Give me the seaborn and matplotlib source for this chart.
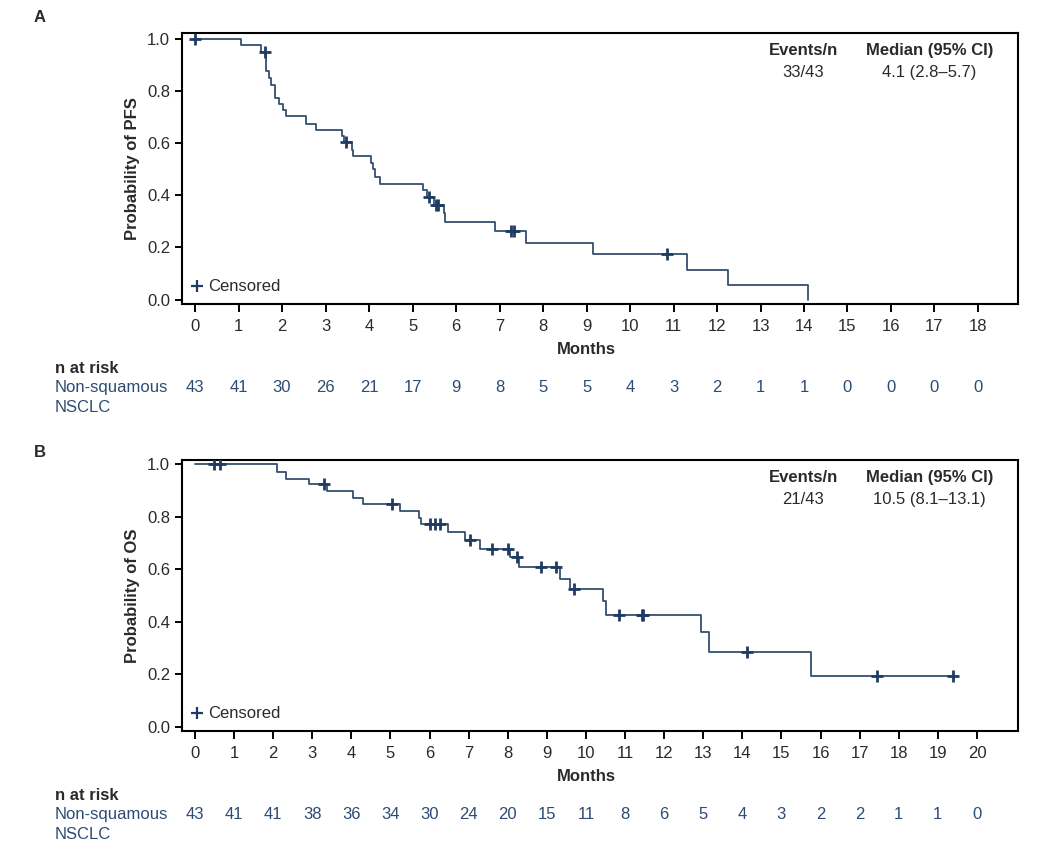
import numpy as np
import pandas as pd
import matplotlib
matplotlib.use("Agg")
import matplotlib.pyplot as plt
import matplotlib.transforms as mtransforms
import seaborn as sns

# ---------------- data ----------------
# Panel A: PFS Kaplan-Meier step curve (time in months, survival after step)
pfs_time = [0, 1.06, 1.52, 1.64, 1.69, 1.74, 1.83, 1.92, 2.02, 2.10, 2.56, 2.77,
            3.38, 3.43, 3.60, 3.64, 4.05, 4.10, 4.14, 4.25, 5.23, 5.33, 5.49,
            5.72, 5.75, 6.90, 7.60, 9.15, 11.31, 12.26, 14.10]
pfs_surv = [1.0, 0.977, 0.951, 0.875, 0.850, 0.822, 0.774, 0.749, 0.727, 0.702,
            0.674, 0.650, 0.628, 0.605, 0.575, 0.549, 0.524, 0.499, 0.471, 0.444,
            0.420, 0.394, 0.363, 0.330, 0.296, 0.263, 0.216, 0.174, 0.114, 0.057, 0.0]
pfs_cens_time = [0, 1.60, 3.46, 5.37, 5.55, 5.58, 7.27, 7.33, 10.85]
pfs_cens_surv = [1.0, 0.951, 0.605, 0.394, 0.363, 0.363, 0.263, 0.263, 0.174]
pfs_risk = [43, 41, 30, 26, 21, 17, 9, 8, 5, 5, 4, 3, 2, 1, 1, 0, 0, 0, 0]
pfs_events = "33/43"
pfs_median = "4.1 (2.8\u20135.7)"

# Panel B: OS Kaplan-Meier step curve
os_time = [0, 2.11, 2.34, 2.92, 3.38, 4.04, 4.31, 5.24, 5.74, 5.78, 6.48, 6.92,
           7.30, 8.06, 8.30, 9.34, 9.59, 10.43, 10.51, 12.94, 13.16, 15.76, 19.40]
os_surv = [1.0, 0.971, 0.945, 0.923, 0.898, 0.873, 0.850, 0.822, 0.797, 0.772,
           0.742, 0.712, 0.678, 0.645, 0.607, 0.564, 0.526, 0.478, 0.427, 0.360,
           0.286, 0.192, 0.192]
os_cens_time = [0.49, 0.64, 3.31, 5.03, 6.02, 6.14, 6.27, 7.04, 7.60, 8.00, 8.24,
                8.85, 9.24, 9.69, 10.84, 11.43, 11.47, 14.11, 17.45, 19.40]
os_cens_surv = [1.0, 1.0, 0.923, 0.850, 0.772, 0.772, 0.772, 0.712, 0.678, 0.678,
                0.645, 0.607, 0.607, 0.526, 0.427, 0.427, 0.427, 0.286, 0.192, 0.192]
os_risk = [43, 41, 41, 38, 36, 34, 30, 24, 20, 15, 11, 8, 6, 5, 4, 3, 2, 2, 1, 1, 0]
os_events = "21/43"
os_median = "10.5 (8.1\u201313.1)"

# ---------------- style ----------------
sns.set_theme(style="ticks")
plt.rcParams["font.family"] = ["Liberation Sans", "DejaVu Sans"]
TXT = "#2a2a2a"
LINE = "#34506f"
CENS = "#1f3b63"
RISK = "#2d4b73"
FS = 12

W, H = 1040, 847
fig = plt.figure(figsize=(W / 100, H / 100), dpi=100)


def px_axes(l, t, r, b):
    return fig.add_axes([l / W, 1 - b / H, (r - l) / W, (b - t) / H])


def panel(ax, times, surv, ctimes, csurv, risk, xmax, xlim, ylim, ylabel,
          events, median, letter, letter_y, risk_top):
    df = pd.DataFrame({"Months": times, "Survival": surv})
    sns.lineplot(data=df, x="Months", y="Survival", drawstyle="steps-post",
                 estimator=None, sort=False, color=LINE, linewidth=1.3, ax=ax)
    cdf = pd.DataFrame({"Months": ctimes, "Survival": csurv})
    sns.scatterplot(data=cdf, x="Months", y="Survival", marker="+", s=80,
                    color=CENS, linewidth=2.0, ax=ax, zorder=5)
    ax.set_xlim(*xlim)
    ax.set_ylim(*ylim)
    ax.set_xticks(range(0, xmax + 1))
    ax.set_yticks([0, 0.2, 0.4, 0.6, 0.8, 1.0])
    ax.set_yticklabels([f"{v:.1f}" for v in [0, 0.2, 0.4, 0.6, 0.8, 1.0]])
    for s in ax.spines.values():
        s.set_visible(True)
        s.set_linewidth(1.5)
        s.set_color("black")
    ax.tick_params(axis="y", direction="out", length=5, width=1.4,
                   color="black", labelsize=FS, labelcolor=TXT, pad=3.5)
    ax.tick_params(axis="x", direction="out", length=6, width=1.4,
                   color="black", labelsize=FS, labelcolor=TXT, pad=5)
    ax.set_xlabel("")
    ax.set_ylabel(ylabel, fontsize=FS, fontweight="bold", color=TXT, labelpad=5)

    # Months label centred on tick range
    bt = mtransforms.blended_transform_factory(ax.transData, fig.transFigure)
    ax.text(xmax / 2, 1 - (risk_top - 19) / H, "Months", transform=bt,
            ha="center", va="center", fontsize=FS, fontweight="bold", color=TXT)

    # events / median box
    ax.text(0.743, 0.935, "Events/n", transform=ax.transAxes, ha="center",
            va="center", fontsize=FS, fontweight="bold", color=TXT)
    ax.text(0.743, 0.855, events, transform=ax.transAxes, ha="center",
            va="center", fontsize=FS, color=TXT)
    ax.text(0.894, 0.935, "Median (95% CI)", transform=ax.transAxes, ha="center",
            va="center", fontsize=FS, fontweight="bold", color=TXT)
    ax.text(0.894, 0.855, median, transform=ax.transAxes, ha="center",
            va="center", fontsize=FS, color=TXT)

    # Censored legend
    ax.plot([0.018], [0.065], marker="+", markersize=8, mew=1.6, color=CENS,
            transform=ax.transAxes, linestyle="none")
    ax.text(0.031, 0.065, "Censored", transform=ax.transAxes, ha="left",
            va="center", fontsize=FS, color=TXT)

    # panel letter
    fig.text(40 / W, 1 - letter_y / H, letter, ha="center", va="center",
             fontsize=FS, fontweight="bold", color=TXT)

    # risk table
    fig.text(55 / W, 1 - risk_top / H, "n at risk", ha="left", va="center",
             fontsize=FS, fontweight="bold", color=TXT)
    fig.text(55 / W, 1 - (risk_top + 19) / H, "Non-squamous", ha="left",
             va="center", fontsize=FS, color=RISK)
    fig.text(55 / W, 1 - (risk_top + 39) / H, "NSCLC", ha="left",
             va="center", fontsize=FS, color=RISK)
    for i, n in enumerate(risk):
        ax.text(i, 1 - (risk_top + 19) / H, str(n), transform=bt, ha="center",
                va="center", fontsize=FS, color=RISK)


axA = px_axes(182, 33, 1018, 304)
panel(axA, pfs_time, pfs_surv, pfs_cens_time, pfs_cens_surv, pfs_risk, 18,
      (-0.30, 18.92), (-0.017, 1.022), "Probability of PFS", pfs_events,
      pfs_median, "A", 18, 368)

axB = px_axes(182, 460, 1018, 731)
panel(axB, os_time, os_surv, os_cens_time, os_cens_surv, os_risk, 20,
      (-0.33, 21.05), (-0.016, 1.016), "Probability of OS", os_events,
      os_median, "B", 452, 795)

fig.savefig("out.png", dpi=100, facecolor="white")
